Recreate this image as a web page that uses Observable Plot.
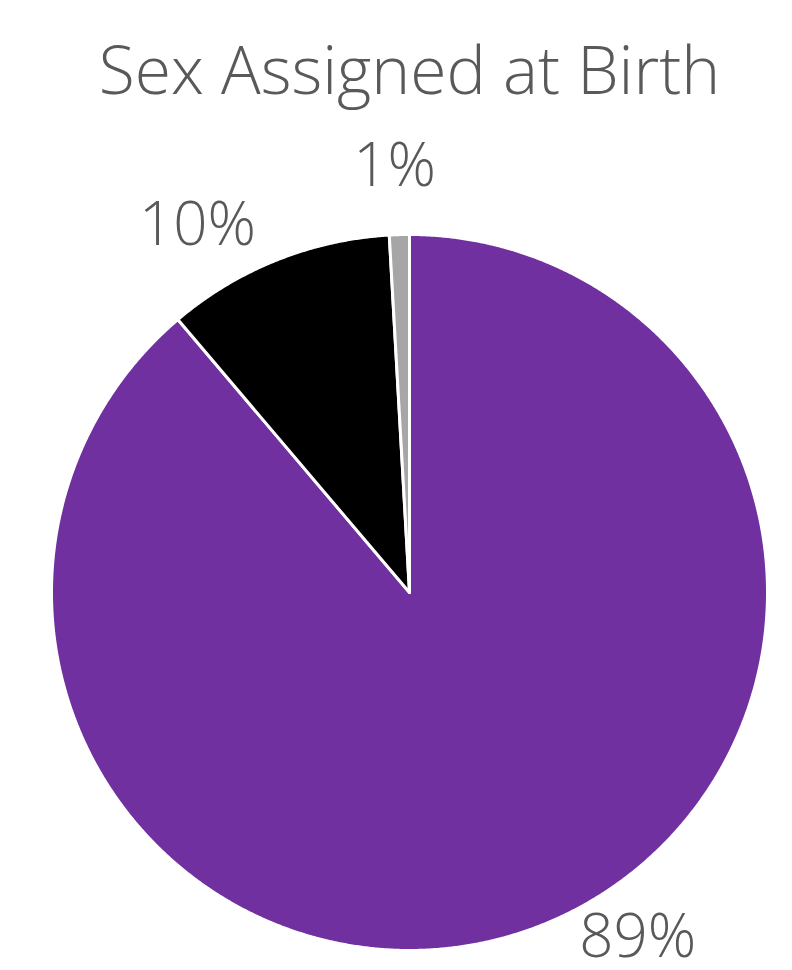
<!DOCTYPE html>
<html>
<head>
<meta charset="utf-8">
<script src="https://cdn.jsdelivr.net/npm/d3@7"></script>
<script src="https://cdn.jsdelivr.net/npm/@observablehq/plot@0.6"></script>
<style>
  html, body { margin: 0; padding: 0; background: #ffffff; }
  #chart { width: 792px; height: 970px; }
  svg { font-family: "Open Sans", "Segoe UI", sans-serif; }
</style>
</head>
<body>
<div id="chart"></div>
<script>
// ---- data ----
const title = "Sex Assigned at Birth";
const categories = ["Female", "Male", "Intersex"];
const shares = [88.8, 10.3, 0.9];          // percent of respondents
const labels = ["89%", "10%", "1%"];

// ---- styling / layout ----
const colors = ["#7030a0", "#000000", "#a6a6a6"];
const labelAngleDeg = [146.5, 330, 358];   // label placement (deg clockwise from top)
const labelRadius = [1.155, 1.184, 1.19];
const W = 792, H = 970;

// build wedge polygons from the shares (clockwise from 12 o'clock)
const total = d3.sum(shares);
const pts = [];
let acc = 0;
categories.forEach((c, i) => {
  const a0 = acc / total * 2 * Math.PI;
  acc += shares[i];
  const a1 = acc / total * 2 * Math.PI;
  const n = Math.max(2, Math.ceil((a1 - a0) / (Math.PI / 720)));
  pts.push({cat: c, x: 0, y: 0});
  for (let k = 0; k <= n; k++) {
    const a = a0 + (a1 - a0) * k / n;
    pts.push({cat: c, x: Math.sin(a), y: Math.cos(a)});
  }
  pts.push({cat: c, x: 0, y: 0});
});

const labelData = categories.map((c, i) => {
  const a = labelAngleDeg[i] * Math.PI / 180;
  return {cat: c, text: labels[i], x: labelRadius[i] * Math.sin(a), y: labelRadius[i] * Math.cos(a)};
});

const chart = Plot.plot({
  width: W,
  height: H,
  marginLeft: 51,
  marginRight: 25,
  marginTop: 234,
  marginBottom: 20,
  x: {domain: [-1, 1], axis: null},
  y: {domain: [-1, 1], axis: null},
  color: {domain: categories, range: colors},
  style: {background: "#ffffff", overflow: "visible"},
  marks: [
    Plot.line(pts, {x: "x", y: "y", z: "cat", fill: "cat", stroke: "#ffffff", strokeWidth: 3, strokeLinejoin: "round", curve: "linear"}),
    Plot.text(labelData, {x: "x", y: "y", text: "text", fill: "#595959", fontSize: 60, fontWeight: 300, textAnchor: "middle", lineAnchor: "middle"}),
    Plot.text([title], {frameAnchor: "top", dy: -234 + 72, text: d => d, fill: "#595959", fontSize: 66, fontWeight: 300, lineAnchor: "middle"})
  ]
});
document.getElementById("chart").appendChild(chart);
</script>
</body>
</html>
